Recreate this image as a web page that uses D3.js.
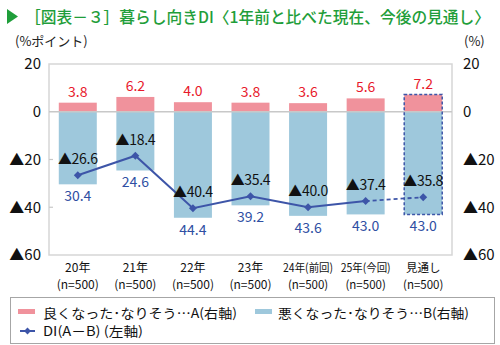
<!DOCTYPE html>
<html><head><meta charset="utf-8">
<script src="https://cdn.jsdelivr.net/npm/d3@7"></script>
<style>
html,body{margin:0;padding:0;background:#fff;}
svg{display:block;font-family:"Noto Sans CJK JP","Noto Sans",sans-serif;}
</style></head>
<body><svg id="c" width="500" height="345"></svg>
<script>
const categories = ["20年","21年","22年","23年","24年(前回)","25年(今回)","見通し"];
const subLabels = ["(n=500)","(n=500)","(n=500)","(n=500)","(n=500)","(n=500)","(n=500)"];
const goodA = [3.8, 6.2, 4.0, 3.8, 3.6, 5.6, 7.2];
const badB = [30.4, 24.6, 44.4, 39.2, 43.6, 43.0, 43.0];
const di = [-26.6, -18.4, -40.4, -35.4, -40.0, -37.4, -35.8];
const yTicks = [20, 0, -20, -40, -60];

const svg = d3.select("#c");
const L = 49, R = 452, T = 64, B = 255;
const fmtTick = v => v < 0 ? "▲" + Math.abs(v) : String(v);
const fmtVal = v => v.toFixed(1);
const fmtDI = v => (v < 0 ? "▲" : "") + Math.abs(v).toFixed(1);

const x = d3.scaleBand().domain(categories).range([L, R]).paddingInner(0.34).paddingOuter(0.17);
const y = d3.scaleLinear().domain([-60, 20]).range([B, T]);

const green = "#1f9e3a", pink = "#f0929c", blue = "#9ec8dc", navy = "#3d55a8", red = "#e8192c", blueTxt = "#2f4fa3";

// title
svg.append("path").attr("d", "M7,9 L18,16.5 L7,24 Z").attr("fill", green);
svg.append("text").attr("x", 25).attr("y", 23).attr("fill", green)
  .attr("font-size", 16).attr("font-weight", 500)
  .attr("textLength", 465).attr("lengthAdjust", "spacingAndGlyphs")
  .text("［図表－３］暮らし向きDI〈1年前と比べた現在、今後の見通し〉");

svg.append("text").attr("x", 15).attr("y", 46).attr("font-size", 13).attr("fill", "#222").text("(%ポイント)");
svg.append("text").attr("x", 464).attr("y", 46).attr("font-size", 13).attr("fill", "#222").text("(%)");

// frame
svg.append("rect").attr("x", L).attr("y", T).attr("width", R - L).attr("height", B - T)
  .attr("fill", "none").attr("stroke", "#d6d6d6").attr("stroke-width", 1.5);

// bars
const g = svg.append("g");
g.selectAll("rect.a").data(goodA).join("rect")
  .attr("x", (d, i) => x(categories[i])).attr("width", x.bandwidth())
  .attr("y", d => y(d)).attr("height", d => y(0) - y(d)).attr("fill", pink);
g.selectAll("rect.b").data(badB).join("rect")
  .attr("x", (d, i) => x(categories[i])).attr("width", x.bandwidth())
  .attr("y", y(0)).attr("height", d => y(-d) - y(0)).attr("fill", blue);

// zero line
svg.append("line").attr("x1", L).attr("x2", R).attr("y1", y(0)).attr("y2", y(0))
  .attr("stroke", "#c8c8c8").attr("stroke-width", 1.5);

// dashed outline for forecast
const lastI = categories.length - 1;
svg.append("rect").attr("x", x(categories[lastI])).attr("width", x.bandwidth())
  .attr("y", y(goodA[lastI])).attr("height", y(-badB[lastI]) - y(goodA[lastI]))
  .attr("fill", "none").attr("stroke", navy).attr("stroke-width", 1.5).attr("stroke-dasharray", "3,2");

// axes ticks
const leftAxis = d3.axisLeft(y).tickValues(yTicks).tickFormat(fmtTick).tickSize(0).tickPadding(8);
const la = svg.append("g").attr("transform", `translate(${L},0)`).call(leftAxis);
la.select(".domain").remove();
la.selectAll("text").attr("font-size", 15).attr("fill", "#111").attr("font-family", "'Noto Sans CJK JP',sans-serif");
svg.selectAll("line.tk").data(yTicks.filter(v => v !== 20 && v !== 0 && v !== -60)).join("line")
  .attr("x1", L).attr("x2", L + 4).attr("y1", d => y(d)).attr("y2", d => y(d))
  .attr("stroke", "#c8c8c8").attr("stroke-width", 1.2);
const rightAxis = d3.axisRight(y).tickValues(yTicks).tickFormat(fmtTick).tickSize(0).tickPadding(11);
const ra = svg.append("g").attr("transform", `translate(${R},0)`).call(rightAxis);
ra.select(".domain").remove();
ra.selectAll("text").attr("font-size", 15).attr("fill", "#111").attr("font-family", "'Noto Sans CJK JP',sans-serif");

// line
const cx = i => x(categories[i]) + x.bandwidth() / 2;
const line = d3.line().x((d, i) => cx(i)).y(d => y(d));
svg.append("path").datum(di.slice(0, lastI)).attr("d", line)
  .attr("fill", "none").attr("stroke", navy).attr("stroke-width", 2);
svg.append("path").datum([di[lastI - 1], di[lastI]])
  .attr("d", d3.line().x((d, i) => cx(lastI - 1 + i)).y(d => y(d)))
  .attr("fill", "none").attr("stroke", navy).attr("stroke-width", 1.8).attr("stroke-dasharray", "4,3");
svg.selectAll("path.pt").data(di).join("path")
  .attr("d", d3.symbol(d3.symbolDiamond2, 40))
  .attr("transform", (d, i) => `translate(${cx(i)},${y(d)})`).attr("fill", navy);

// value labels
svg.selectAll("text.av").data(goodA).join("text")
  .attr("x", (d, i) => cx(i)).attr("y", d => y(d) - 6).attr("text-anchor", "middle")
  .attr("font-size", 14).attr("fill", red).text(fmtVal);
svg.selectAll("text.bv").data(badB).join("text")
  .attr("x", (d, i) => cx(i)).attr("y", d => y(-d) + 17).attr("text-anchor", "middle")
  .attr("font-size", 14).attr("fill", blueTxt).text(fmtVal);
svg.selectAll("text.dv").data(di).join("text")
  .attr("x", (d, i) => cx(i)).attr("y", d => y(d) - 11).attr("text-anchor", "middle")
  .attr("font-size", 14).attr("fill", "#111").attr("letter-spacing", -0.3).text(fmtDI);

// x labels (two lines in one text)
categories.forEach((c, i) => {
  const small = i >= 4;
  const t = svg.append("text").attr("text-anchor", "middle")
    .attr("font-size", small ? 11.5 : 12).attr("fill", "#111");
  const t1 = t.append("tspan").attr("x", cx(i)).attr("y", 272).text(c);
  if (i === 4 || i === 5) t1.attr("textLength", 50).attr("lengthAdjust", "spacingAndGlyphs");
  t.append("tspan").attr("x", cx(i)).attr("y", 289).text(subLabels[i]);
});

// legend
svg.append("rect").attr("x", 10.5).attr("y", 297.5).attr("width", 484).attr("height", 46)
  .attr("fill", "#fff").attr("stroke", "#a6a6a6").attr("stroke-width", 1);
svg.append("rect").attr("x", 18).attr("y", 309).attr("width", 17).attr("height", 5).attr("fill", pink);
svg.append("text").attr("x", 43).attr("y", 318).attr("font-size", 13).attr("fill", "#111")
  .attr("textLength", 194).attr("lengthAdjust", "spacingAndGlyphs").text("良くなった･なりそう…A(右軸)");
svg.append("rect").attr("x", 255).attr("y", 309).attr("width", 17).attr("height", 5).attr("fill", blue);
svg.append("text").attr("x", 278).attr("y", 318).attr("font-size", 13).attr("fill", "#111")
  .attr("textLength", 191).attr("lengthAdjust", "spacingAndGlyphs").text("悪くなった･なりそう…B(右軸)");
svg.append("line").attr("x1", 20).attr("x2", 35).attr("y1", 331).attr("y2", 331).attr("stroke", navy).attr("stroke-width", 2);
svg.append("path").attr("d", d3.symbol(d3.symbolDiamond2, 30)).attr("transform", "translate(27.5,331)").attr("fill", navy);
svg.append("text").attr("x", 43).attr("y", 336).attr("font-size", 13).attr("fill", "#111")
  .attr("textLength", 100).attr("lengthAdjust", "spacingAndGlyphs").text("DI(A－B) (左軸)");
</script></body></html>
